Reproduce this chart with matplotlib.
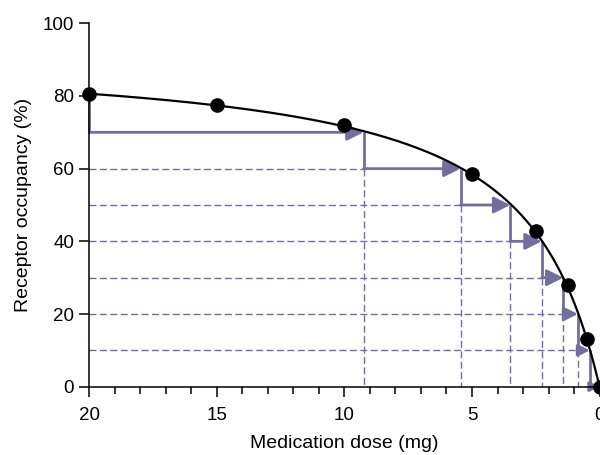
import numpy as np
import matplotlib
matplotlib.use('Agg')
from matplotlib import pyplot as plt

plt.rcParams['font.family'] = ['Liberation Sans', 'DejaVu Sans']

# measured points (black dots)
dose = [20, 15, 10, 5, 2.5, 1.25, 0.5, 0]
occupancy = [80.5, 77.5, 72, 58.6, 42.8, 28, 13, 0]

# dose reduction steps: occupancy level and dose where the curve reaches it
step_levels = [70, 60, 50, 40, 30, 20, 10, 0]
step_doses = [9.25, 5.45, 3.5, 2.27, 1.42, 0.85, 0.38, 0]

purple = '#736e9e'

# fit a hyperbolic (Hill) occupancy curve through the read-off points
fit_x = np.array(dose + step_doses, dtype=float)
fit_y = np.array(occupancy + step_levels, dtype=float)
best = None
for n in np.linspace(0.7, 1.8, 111):
    for k in np.linspace(0.5, 8, 301):
        g = fit_x ** n / (fit_x ** n + k ** n)
        emax = (g @ fit_y) / (g @ g)
        err = np.sum((emax * g - fit_y) ** 2)
        if best is None or err < best[0]:
            best = (err, n, k, emax)
_, n_fit, k_fit, emax_fit = best
xs = np.linspace(0, 20, 600)
ys = emax_fit * xs ** n_fit / (xs ** n_fit + k_fit ** n_fit)

fig = plt.figure(figsize=(6, 4.55), dpi=100)
ax = fig.add_axes([0.1488, 0.1501, 0.8505, 0.7987])

# dashed guide lines
for i in range(len(step_levels) - 2):
    lev = step_levels[i + 1]
    ax.plot([20, step_doses[i]], [lev, lev], color=purple, lw=1,
            linestyle=(0, (5, 2.5)), zorder=1)
    ax.plot([step_doses[i], step_doses[i]], [lev, 0], color=purple, lw=1,
            linestyle=(0, (5, 2.5)), zorder=1)

# solid staircase with arrows
ax.plot([20, 20], [occupancy[0], step_levels[0]], color=purple, lw=2,
        solid_capstyle='butt', zorder=2, clip_on=False)
prev = 20
for i, lev in enumerate(step_levels):
    x_end = step_doses[i]
    seg_pt = abs(prev - x_end) * 25.5 / (100 / 72)
    hl = min(10, seg_pt * 0.8)
    ax.annotate('', xy=(x_end, lev), xytext=(prev, lev),
                arrowprops=dict(arrowstyle='-|>,head_length=%.2f,head_width=%.2f' % (hl, hl * 0.5),
                                mutation_scale=1, color=purple, lw=2,
                                shrinkA=0, shrinkB=0),
                zorder=2, annotation_clip=False)
    if i + 1 < len(step_levels):
        ax.plot([x_end, x_end], [lev, step_levels[i + 1]], color=purple, lw=2,
                solid_capstyle='butt', zorder=2)
    prev = x_end

ax.plot(xs, ys, color='black', lw=1.6, zorder=3, clip_on=False)
ax.plot(dose, occupancy, 'o', color='black', markersize=9.5, zorder=4, clip_on=False)

ax.set_xlim(20, 0)
ax.set_ylim(0, 100)
ax.set_xticks([20, 15, 10, 5, 0])
ax.set_xticks(np.arange(0, 21, 1), minor=True)
ax.set_yticks([0, 20, 40, 60, 80, 100])
ax.spines['top'].set_visible(False)
ax.spines['right'].set_visible(False)
for s in ('left', 'bottom'):
    ax.spines[s].set_linewidth(1.1)
ax.tick_params(axis='both', which='major', direction='out', length=7.5, width=1.1,
               labelsize=13.5)
ax.tick_params(axis='x', which='minor', direction='out', length=5, width=1.1)
ax.tick_params(axis='x', which='major', pad=7)
ax.set_xlabel('Medication dose (mg)', fontsize=14, labelpad=8)
ax.set_ylabel('Receptor occupancy (%)', fontsize=14, labelpad=8)

fig.savefig('out.png', dpi=100)
